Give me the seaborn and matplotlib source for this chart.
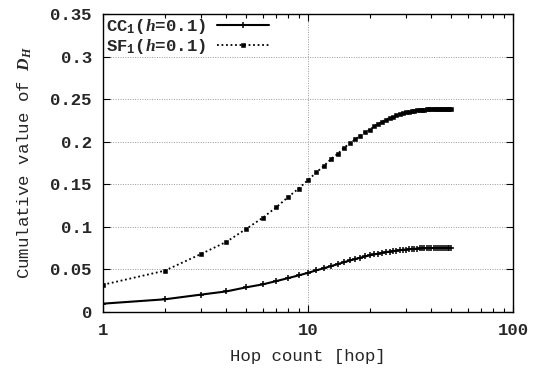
import numpy as np
import pandas as pd
import matplotlib
matplotlib.use("Agg")
import matplotlib.pyplot as plt
import seaborn as sns
from matplotlib.ticker import LogLocator, NullFormatter, FixedLocator

hops = list(range(1, 51))
cc_vals = [0.0098, 0.0149, 0.0204, 0.0242, 0.0290, 0.0324, 0.0363, 0.0398, 0.0430, 0.0460,
           0.0490, 0.0515, 0.0540, 0.0563, 0.0585, 0.0605, 0.0622, 0.0638, 0.0652, 0.0665,
           0.0676, 0.0686, 0.0695, 0.0703, 0.0710, 0.0716, 0.0721, 0.0726, 0.0730, 0.0734,
           0.0737, 0.0740, 0.0742, 0.0744, 0.0746, 0.0747, 0.0748, 0.0749, 0.0750, 0.0751,
           0.0751, 0.0752, 0.0752, 0.0752, 0.0753, 0.0753, 0.0753, 0.0753, 0.0753, 0.0753]
sf_vals = [0.0320, 0.0485, 0.0680, 0.0824, 0.0977, 0.1105, 0.1230, 0.1350, 0.1450, 0.1550,
           0.1640, 0.1720, 0.1800, 0.1860, 0.1930, 0.1980, 0.2030, 0.2070, 0.2110, 0.2140,
           0.2180, 0.2210, 0.2235, 0.2260, 0.2280, 0.2295, 0.2310, 0.2325, 0.2335, 0.2345,
           0.2352, 0.2360, 0.2365, 0.2370, 0.2373, 0.2376, 0.2378, 0.2379, 0.2380, 0.2380,
           0.2381, 0.2381, 0.2381, 0.2381, 0.2381, 0.2381, 0.2381, 0.2381, 0.2381, 0.2381]
labels = ["CC$_1$($h$=0.1)", "SF$_1$($h$=0.1)"]
y_ticks = [0, 0.05, 0.1, 0.15, 0.2, 0.25, 0.3, 0.35]
y_ticklabels = ["0", "0.05", "0.1", "0.15", "0.2", "0.25", "0.3", "0.35"]
x_ticks = [1, 10, 100]
x_ticklabels = ["1", "10", "100"]

cc_df = pd.DataFrame({"hop": hops, "value": cc_vals})
sf_df = pd.DataFrame({"hop": hops, "value": sf_vals})

sns.set_style("ticks")
plt.rcParams['font.family'] = ['Liberation Mono', 'DejaVu Sans Mono']
plt.rcParams['font.weight'] = 'bold'
plt.rcParams['mathtext.fontset'] = 'custom'
plt.rcParams['mathtext.it'] = 'Liberation Serif:italic'
plt.rcParams['mathtext.rm'] = 'Liberation Mono:bold'

fig = plt.figure(figsize=(5.34, 3.70), dpi=100)
ax = fig.add_axes([103/534, 58/370, 410/534, 298/370])

sns.lineplot(data=cc_df, x="hop", y="value", color="black", marker="+",
             markersize=4.5, markeredgewidth=1.1, markeredgecolor="black",
             linewidth=1.5, ax=ax, label=labels[0])
sns.lineplot(data=sf_df, x="hop", y="value", color="black", marker="s",
             markersize=3.2, markeredgewidth=0.4, markeredgecolor="black",
             markerfacecolor="black", linewidth=1.3,
             linestyle=(0, (1, 1.5)), ax=ax, label=labels[1])

ax.set_xscale("log")
ax.set_xlim(1, 100)
ax.set_ylim(0, 0.35)
ax.xaxis.set_major_locator(FixedLocator(x_ticks))
ax.set_xticklabels(x_ticklabels)
ax.xaxis.set_minor_locator(LogLocator(base=10, subs=np.arange(2, 10)))
ax.xaxis.set_minor_formatter(NullFormatter())
ax.set_yticks(y_ticks)
ax.set_yticklabels(y_ticklabels)

ax.tick_params(which="both", direction="in", top=True, right=True, labelsize=12.5, color="black")
ax.tick_params(which="major", length=5, width=0.8, pad=8)
ax.tick_params(which="minor", length=3, width=0.8)
ax.grid(True, which="major", linestyle=(0, (1, 1.5)), color="#999999", linewidth=0.7)
for s in ax.spines.values():
    s.set_linewidth(1.0)
    s.set_color("black")

ax.set_xlabel("Hop count [hop]", fontsize=12.5, labelpad=8)
ax.set_ylabel("Cumulative value of $D_H$", fontsize=12.5, labelpad=12)

leg = ax.legend(loc="upper left", frameon=False, markerfirst=False,
                fontsize=12.5, handlelength=3.0, borderaxespad=0.1, borderpad=0.1,
                labelspacing=0.05, handletextpad=0.6)

fig.savefig("out.png", dpi=100)
